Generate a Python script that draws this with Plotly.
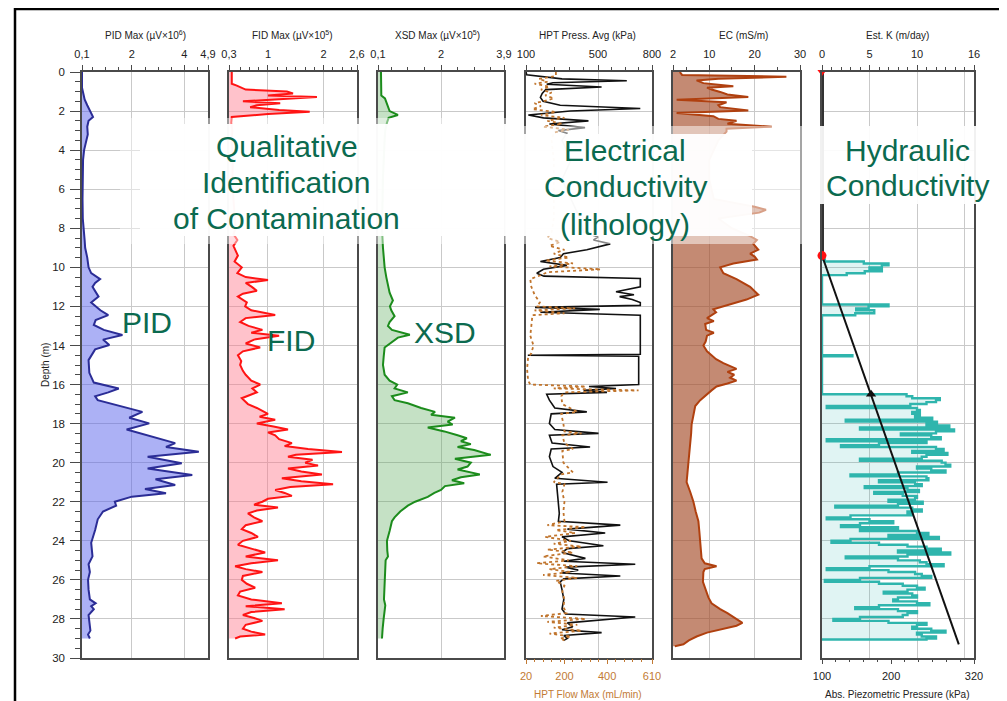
import plotly.graph_objects as go

# The page body has an 8px default margin, so the figure is smaller and shifted by it.
OFF = 8
W, H = 1007 - OFF, 701 - OFF
def fx(x): return (x - OFF) / W
def fy(y): return (H - (y - OFF)) / H

# ---------------- data ----------------
pid_depth = [0, 0.8, 1.1, 1.4, 1.7, 2.0, 2.3, 2.5, 2.8, 3.2, 3.6, 4.0, 4.5, 5.5, 6.5, 7.5, 8.0, 8.6, 9.0, 9.5,
             10.0, 10.3, 10.6, 10.8, 11.0, 11.3, 11.5, 11.8, 12.2, 12.45, 12.7, 12.95, 13.2, 13.46, 13.7, 13.98, 14.2, 14.75, 15.4, 15.9,
             16.2, 16.4, 16.6, 16.8, 17.0, 17.4, 17.7, 17.99, 18.3, 18.67, 19.0, 19.2, 19.44, 19.7, 20.03, 20.3, 20.63, 20.85, 21.14, 21.35,
             21.57, 21.74, 22.0, 22.2, 22.5, 22.9, 23.45, 24.1, 24.8, 25.2, 25.6, 26.0, 26.5, 27.0, 27.2, 27.35, 27.5, 27.8, 28.2, 28.6,
             28.8, 29.0]
pid_val = [0.1, 0.1, 0.15, 0.2, 0.3, 0.4, 0.52, 0.35, 0.3, 0.32, 0.25, 0.18, 0.14, 0.12, 0.12, 0.13, 0.15, 0.2, 0.22, 0.3,
           0.35, 0.45, 0.79, 0.6, 0.5, 0.65, 0.73, 0.45, 0.8, 1.1, 0.62, 0.55, 0.93, 1.64, 0.9, 1.14, 0.6, 0.35, 0.38, 0.55,
           1.5, 1.1, 0.6, 0.7, 1.3, 2.4, 1.9, 2.66, 1.8, 2.8, 3.65, 3.3, 4.55, 2.6, 3.9, 2.6, 4.3, 2.9, 3.65, 2.5,
           3.3, 2.0, 1.35, 1.4, 0.9, 0.7, 0.6, 0.45, 0.5, 0.35, 0.4, 0.33, 0.35, 0.4, 0.62, 0.45, 0.55, 0.35, 0.38, 0.42,
           0.33, 0.4]

fid_depth = [0, 0.6, 0.7, 0.9, 1.0, 1.1, 1.2, 1.28, 1.4, 1.5, 1.6, 1.7, 1.8, 1.95, 2.04, 2.15, 2.3, 2.6, 3.0, 3.5,
             4.5, 5.5, 6.5, 7.5, 8.0, 8.3, 8.6, 8.9, 9.1, 9.4, 9.7, 10.0, 10.3, 10.5, 10.65, 10.8, 11.0, 11.2, 11.35, 11.5,
             11.8, 12.0, 12.2, 12.44, 12.6, 12.8, 13.0, 13.2, 13.35, 13.5, 13.7, 13.9, 14.1, 14.3, 14.5, 14.8, 15.0, 15.3, 15.5, 15.8,
             16.0, 16.2, 16.4, 16.7, 17.0, 17.2, 17.5, 17.65, 17.8, 18.0, 18.15, 18.3, 18.45, 18.6, 18.8, 19.0, 19.15, 19.3, 19.45, 19.6,
             19.7, 19.85, 20.0, 20.15, 20.3, 20.45, 20.6, 20.8, 20.95, 21.1, 21.25, 21.4, 21.55, 21.7, 21.85, 22.0, 22.15, 22.3, 22.45, 22.6,
             22.8, 23.0, 23.2, 23.4, 23.6, 23.8, 24.0, 24.2, 24.4, 24.6, 24.8, 25.0, 25.15, 25.3, 25.45, 25.6, 25.8, 26.0, 26.2, 26.4,
             26.6, 26.8, 27.0, 27.2, 27.35, 27.5, 27.65, 27.8, 27.95, 28.1, 28.3, 28.5, 28.65, 28.8, 28.9, 29.0]
fid_val = [0.35, 0.35, 0.44, 0.6, 1.34, 1.45, 1.0, 1.88, 1.2, 0.55, 1.22, 0.8, 0.68, 1.2, 1.75, 1.0, 0.35, 0.34, 0.36, 0.35,
           0.37, 0.36, 0.38, 0.4, 0.42, 0.38, 0.45, 0.38, 0.41, 0.46, 0.4, 0.53, 0.45, 0.6, 1.0, 0.6, 0.71, 0.8, 0.55, 0.46,
           0.62, 0.59, 0.7, 1.13, 0.6, 0.5, 0.65, 0.9, 0.7, 1.2, 0.75, 0.6, 0.86, 0.55, 0.46, 0.52, 0.5, 0.55, 0.6, 0.7,
           0.86, 0.72, 0.8, 0.53, 0.64, 0.8, 1.0, 0.85, 1.13, 0.8, 1.1, 1.36, 1.0, 1.13, 1.2, 1.43, 1.3, 1.72, 2.33, 1.5,
           1.36, 1.8, 1.67, 1.9, 1.36, 1.6, 1.97, 1.25, 1.6, 2.17, 1.4, 1.13, 1.3, 1.43, 1.0, 0.9, 0.75, 1.18, 0.8, 0.64,
           0.75, 0.9, 0.6, 0.53, 0.7, 0.82, 0.55, 0.46, 0.7, 0.95, 0.6, 1.18, 0.7, 0.41, 0.6, 0.9, 0.55, 0.53, 0.62, 0.77,
           0.5, 0.46, 0.7, 1.25, 0.6, 1.3, 0.7, 0.55, 0.75, 0.9, 0.6, 0.55, 0.7, 0.95, 0.5, 0.41]

xsd_depth = [0, 1.2, 1.35, 1.6, 1.8, 2.0, 2.2, 2.35, 2.6, 3.0, 3.5, 4.5, 5.5, 6.5, 7.5, 8.0, 9.0, 9.5, 10.0, 10.5,
             11.0, 11.3, 11.7, 12.0, 12.2, 12.5, 12.8, 13.0, 13.2, 13.45, 13.6, 13.8, 14.1, 14.6, 15.0, 15.5, 15.8, 16.0, 16.2, 16.4,
             16.6, 16.8, 16.96, 17.2, 17.4, 17.55, 17.7, 17.9, 18.05, 18.2, 18.4, 18.6, 18.75, 18.9, 19.05, 19.2, 19.35, 19.6, 19.8, 20.0,
             20.2, 20.35, 20.6, 20.75, 20.9, 21.05, 21.2, 21.4, 21.55, 21.75, 22.0, 22.2, 22.5, 22.8, 23.0, 23.5, 24.0, 24.5, 24.8, 25.0,
             25.5, 26.0, 26.5, 27.0, 27.3, 27.5, 28.0, 28.5, 29.0]
xsd_val = [0.19, 0.2, 0.31, 0.36, 0.4, 0.45, 0.7, 0.42, 0.37, 0.32, 0.3, 0.27, 0.25, 0.24, 0.23, 0.22, 0.25, 0.27, 0.3, 0.35,
           0.4, 0.45, 0.55, 0.46, 0.5, 0.6, 0.45, 0.4, 0.52, 1.06, 0.7, 0.55, 0.3, 0.27, 0.25, 0.3, 0.45, 0.68, 0.6, 1.0,
           0.52, 0.6, 1.0, 1.4, 1.82, 1.7, 2.42, 2.2, 2.35, 1.6, 2.1, 2.5, 2.78, 2.6, 2.9, 2.5, 3.0, 3.5, 2.42, 2.9,
           2.8, 2.5, 3.17, 2.6, 2.33, 2.7, 2.12, 2.0, 1.8, 1.6, 1.22, 1.0, 0.77, 0.6, 0.52, 0.45, 0.37, 0.38, 0.4, 0.33,
           0.32, 0.3, 0.29, 0.28, 0.32, 0.3, 0.27, 0.24, 0.22]

hpt_p_depth = [0, 0.14, 0.35, 0.45, 0.55, 0.63, 0.77, 0.9, 1.1, 1.3, 1.5, 1.7, 1.87, 2.0, 2.2, 2.35, 2.5, 2.66, 2.85, 3.0,
               3.13, 3.5, 4.5, 5.5, 6.5, 7.5, 8.2, 8.45, 8.6, 8.8, 9.1, 9.3, 9.5, 9.7, 9.9, 10.1, 10.3, 10.45, 10.57, 11.0,
               11.25, 11.4, 11.5, 11.65, 11.8, 11.95, 12.05, 12.15, 12.3, 12.45, 14.45, 14.5, 14.55, 16.0, 16.1, 16.2, 16.3, 16.4, 16.5, 16.8,
               17.2, 17.4, 17.5, 18.0, 18.3, 18.5, 18.6, 19.0, 19.2, 19.3, 19.7, 20.2, 20.5, 20.8, 21.0, 21.1, 21.6, 22.2, 22.6, 23.0,
               23.2, 23.4, 23.6, 23.8, 24.0, 24.25, 24.4, 24.6, 24.9, 25.05, 25.2, 25.35, 25.5, 25.65, 25.8, 25.95, 26.1, 26.5, 27.0, 27.5,
               27.75, 27.9, 28.05, 28.2, 28.4, 28.55, 28.7, 28.85, 29.0, 29.1]
hpt_p_val = [100, 104, 300, 660, 250, 215, 520, 210, 190, 180, 195, 290, 735, 345, 113, 197, 447, 230, 428, 280,
             327, 300, 350, 300, 350, 400, 420, 500, 475, 568, 438, 308, 290, 180, 327, 197, 160, 200, 735, 735,
             600, 700, 620, 690, 735, 735, 150, 510, 180, 735, 735, 110, 726, 726, 450, 600, 420, 550, 215, 230,
             260, 438, 240, 230, 260, 503, 230, 245, 456, 240, 230, 250, 300, 260, 553, 270, 275, 280, 285, 280,
             624, 330, 540, 300, 340, 530, 330, 300, 430, 310, 707, 320, 390, 300, 624, 310, 290, 300, 310, 300,
             320, 707, 520, 330, 360, 300, 520, 310, 330, 310]

hpt_f_depth = [0, 0.2, 0.35, 0.5, 0.6, 0.75, 0.9, 1.05, 1.2, 1.35, 1.5, 1.6, 1.75, 1.9, 2.05, 2.2, 2.35, 2.5, 2.65, 2.8,
               2.95, 3.1, 3.5, 4.5, 5.5, 6.5, 7.5, 8.2, 8.5, 8.7, 8.9, 9.1, 9.3, 9.5, 9.65, 9.8, 9.95, 10.1, 10.25, 10.4,
               10.6, 11.0, 11.4, 11.8, 12.0, 12.1, 12.2, 12.35, 12.45, 13.0, 13.5, 14.0, 14.4, 14.6, 15.2, 15.8, 16.0, 16.1, 16.2, 16.3,
               16.4, 16.6, 17.0, 17.4, 17.5, 18.0, 18.4, 18.5, 18.6, 19.0, 19.3, 19.4, 20.0, 20.5, 20.6, 21.0, 21.1, 21.5, 22.0, 22.5,
               23.0, 23.2, 23.3, 23.45, 23.6, 23.8, 24.0, 24.15, 24.3, 24.45, 24.6, 24.8, 25.0, 25.15, 25.3, 25.45, 25.6, 25.75, 25.9, 26.05,
               26.3, 26.6, 27.0, 27.4, 27.7, 27.85, 28.0, 28.15, 28.3, 28.45, 28.6, 28.75, 28.9, 29.0, 29.1]
hpt_f_val = [160, 160, 80, 120, 60, 130, 90, 140, 110, 150, 100, 60, 90, 50, 160, 90, 200, 120, 190, 100,
             220, 150, 140, 150, 150, 150, 150, 140, 120, 180, 130, 200, 150, 220, 110, 240, 130, 370, 120, 90,
             40, 45, 60, 85, 70, 250, 60, 200, 50, 45, 40, 55, 45, 30, 25, 30, 40, 300, 150, 547,
             200, 185, 190, 260, 185, 195, 200, 280, 190, 200, 240, 190, 195, 240, 185, 150, 200, 190, 200, 195,
             200, 120, 300, 160, 250, 110, 230, 150, 280, 120, 240, 100, 220, 70, 260, 130, 230, 100, 260, 160,
             200, 190, 200, 195, 210, 90, 300, 120, 260, 150, 280, 130, 230, 180, 200]

ec_depth = [0, 0.15, 0.24, 0.35, 0.43, 0.57, 0.65, 0.73, 0.8, 0.9, 1.02, 1.15, 1.28, 1.42, 1.55, 1.7, 1.8, 1.97, 2.1, 2.26,
            2.4, 2.5, 2.65, 2.8, 2.9, 3.05, 3.5, 4.5, 5.5, 6.5, 6.9, 7.05, 7.2, 7.5, 8.0, 8.4, 8.6, 8.8, 9.1, 9.3,
            9.45, 9.6, 9.8, 10.0, 10.3, 10.6, 11.0, 11.2, 11.4, 11.65, 11.95, 12.15, 12.3, 12.45, 12.6, 12.75, 12.9, 13.2, 13.35, 13.5,
            13.8, 14.0, 14.3, 14.5, 14.7, 14.9, 15.05, 15.2, 15.35, 15.5, 15.65, 15.8, 15.95, 16.1, 16.3, 16.5, 16.8, 17.1, 17.5, 18.05,
            18.5, 19.0, 19.5, 20.0, 20.5, 21.0, 21.5, 22.0, 22.5, 23.0, 23.5, 24.0, 24.5, 24.9, 25.15, 25.3, 25.45, 25.6, 26.1, 26.5,
            26.9, 27.2, 27.5, 27.7, 27.9, 28.05, 28.2, 28.35, 28.5, 28.7, 28.9, 29.1, 29.3, 29.4]
ec_val = [3.5, 4, 27, 12, 7.2, 8.7, 12, 15.3, 9.5, 10.5, 12.4, 14, 18.6, 2.8, 13.8, 12, 12.4, 18.6, 2.8, 10.9,
          12, 16, 14, 23.8, 13.8, 13.8, 12, 10, 10, 11, 20, 22.5, 21, 12, 15, 19, 20.5, 19.7, 20.8, 19,
          20, 20.5, 15.3, 12.4, 13.1, 16, 19, 20, 20.8, 18.2, 13.8, 10.9, 11.5, 10.5, 9.5, 11, 9.1, 9.3, 11, 9.5,
          9.2, 8.7, 9.5, 10.5, 11.5, 13.1, 14.5, 16, 14, 15.5, 14.6, 16, 14, 11.6, 10.5, 9.4, 8, 6.9, 6.5, 6.1,
          6, 5.75, 5.6, 5.4, 5.2, 5.0, 5.8, 6.5, 7, 7.6, 7.8, 8.0, 8.1, 8.3, 9, 11.6, 9, 8.7, 8.6, 9.2,
          9.8, 10.5, 12.4, 14, 15.3, 16.3, 17.3, 16, 13, 9.5, 7.2, 5.5, 4.3, 2.4]

k_depth = [9.4, 9.6, 9.7, 9.8, 9.9, 10.0, 10.1, 10.2, 10.3, 10.4, 11.8, 11.9, 12.0, 12.1, 12.2, 12.35, 12.45, 14.4, 14.5, 14.55,
           16.4, 16.5, 16.6, 16.7, 16.8, 16.9, 17.0, 17.1, 17.2, 17.3, 17.4, 17.5, 17.6, 17.7, 17.8, 17.9, 18.0, 18.1, 18.2, 18.3,
           18.4, 18.5, 18.6, 18.7, 18.8, 18.9, 19.0, 19.1, 19.2, 19.3, 19.4, 19.5, 19.6, 19.7, 19.8, 19.9, 20.0, 20.1, 20.2, 20.3,
           20.4, 20.5, 20.6, 20.7, 20.8, 20.9, 21.0, 21.1, 21.2, 21.3, 21.4, 21.5, 21.6, 21.7, 21.8, 21.9, 22.0, 22.1, 22.2, 22.3,
           22.4, 22.5, 22.6, 22.7, 22.8, 22.9, 23.0, 23.1, 23.2, 23.3, 23.4, 23.5, 23.6, 23.7, 23.8, 23.9, 24.0, 24.1, 24.2, 24.3,
           24.4, 24.5, 24.6, 24.7, 24.8, 24.9, 25.0, 25.1, 25.2, 25.3, 25.4, 25.5, 25.6, 25.7, 25.8, 25.9, 26.0, 26.1, 26.2, 26.3,
           26.4, 26.5, 26.6, 26.7, 26.8, 26.9, 27.0, 27.1, 27.2, 27.3, 27.4, 27.5, 27.6, 27.7, 27.8, 27.9, 28.0, 28.1, 28.2, 28.3,
           28.4, 28.5, 28.6, 28.7, 28.8, 28.9, 29.0, 29.05]
k_val = [0, 0.3, 4.4, 7.0, 6.3, 5.0, 6.3, 4.5, 2.6, 0, 0, 7.0, 4.9, 3.6, 5.5, 3.5, 0, 0, 3.2, 0,
         0, 8.9, 9.5, 12.4, 12.0, 11.0, 9.3, 0.5, 10.0, 10.3, 9.5, 10.3, 9.8, 11.6, 2.5, 12.1, 11.0, 13.4, 4.0, 13.9,
         12.0, 8.3, 11.5, 12.5, 0.5, 11.0, 6.0, 2.0, 12.0, 12.8, 9.5, 13.2, 11.0, 10.5, 4.0, 12.6, 13.0, 13.5, 10.0, 11.5,
         13.0, 8.0, 3.0, 11.0, 11.2, 6.0, 9.8, 10.5, 4.5, 9.0, 10.2, 5.5, 8.5, 10.0, 9.8, 7.0, 10.6, 8.0, 1.4, 9.5,
         10.5, 9.0, 9.5, 3.0, 0.5, 5.0, 7.5, 4.0, 2.0, 8.0, 4.0, 10.0, 11.2, 7.0, 12.3, 3.0, 1.0, 6.0, 9.0, 11.0,
         12.5, 8.0, 13.5, 9.0, 2.5, 8.0, 10.3, 11.0, 12.8, 5.0, 0.5, 7.0, 9.8, 10.5, 11.5, 4.0, 0.3, 6.0, 8.5, 10.0,
         10.8, 9.0, 6.5, 9.5, 10.0, 8.0, 7.5, 10.0, 11.3, 6.0, 3.5, 8.0, 10.0, 9.0, 8.5, 4.0, 1.2, 7.0, 11.0, 10.0,
         9.5, 11.5, 13.0, 10.0, 10.5, 12.0, 11.0, 0]

piezo_depth = [9.4, 29.3]
piezo_kpa = [100, 298]
vadose_depth = [0, 9.4]
vadose_kpa = [100, 100]
piezo_marker_depth = [16.5]
piezo_marker_kpa = [171]
k_extra_grid = 15

for a, b in [(pid_depth, pid_val), (fid_depth, fid_val), (xsd_depth, xsd_val), (hpt_p_depth, hpt_p_val),
             (hpt_f_depth, hpt_f_val), (ec_depth, ec_val), (k_depth, k_val)]:
    assert len(a) == len(b), (len(a), len(b))

# ---------------- layout helpers ----------------
FONT = "Liberation Sans, Arial, sans-serif"
GRID = "#c9c9c9"
LINE = "#4a4a4a"
BROWN = "#c27a34"
panels = [(82, 208), (229, 357), (378, 504), (526, 652), (673, 800), (822, 974)]
ydom = [fy(658), fy(72)]

def top_axis(i, rng, vals, text, minor_vals):
    x0, x1 = panels[i]
    return dict(domain=[fx(x0), fx(x1)], range=rng, side="top", anchor="y" if i == 0 else f"y{i+1}",
                tickmode="array", tickvals=vals, ticktext=text, ticks="outside", ticklen=5, tickwidth=1,
                tickcolor=LINE, showline=True, linecolor=LINE, linewidth=1.5, mirror=True,
                showgrid=True, gridcolor=GRID, gridwidth=1, zeroline=False, tickangle=0,
                tickfont=dict(family=FONT, size=11, color="#222"), ticklabelstandoff=3,
                minor=dict(tickmode="array", tickvals=minor_vals, ticks="outside", ticklen=3,
                           tickcolor=LINE, showgrid=False))

def y_axis(i):
    d = dict(domain=ydom, range=[30, 0], anchor="x" if i == 0 else f"x{i+1}",
             tickmode="linear", tick0=0, dtick=2, showgrid=True, gridcolor=GRID, gridwidth=1,
             zeroline=False, showline=True, linecolor=LINE, linewidth=1.5, mirror=True)
    if i == 0:
        d.update(ticks="outside", ticklen=10, tickcolor=LINE, showticklabels=True, tickangle=0,
                 tickfont=dict(family=FONT, size=11.5, color="#222"), ticklabelstandoff=3,
                 minor=dict(dtick=0.5, ticks="outside", ticklen=5, tickcolor=LINE, showgrid=False))
    else:
        d.update(ticks="", showticklabels=False)
    return d

layout = dict(width=W, height=H, margin=dict(l=0, r=0, t=0, b=0), template="none",
              paper_bgcolor="white", plot_bgcolor="white", showlegend=False,
              font=dict(family=FONT, size=11, color="#222"))

layout["xaxis"] = top_axis(0, [0.1, 4.9], [0.1, 2, 4, 4.9], ["0,1", "2", "4", "4,9"],
                           [0.5, 1, 1.5, 2.5, 3, 3.5, 4.5])
layout["xaxis2"] = top_axis(1, [0.3, 2.6], [0.3, 1, 2, 2.6], ["0,3", "1", "2", "2,6"],
                            [0.5, 0.6667, 0.8333, 1.1667, 1.3333, 1.5, 1.6667, 1.8333, 2.1667, 2.3333, 2.5])
layout["xaxis3"] = top_axis(2, [0.1, 3.9], [0.1, 2, 3.9], ["0,1", "2", "3,9"],
                            [0.5, 1, 1.5, 2.5, 3, 3.5])
layout["xaxis4"] = top_axis(3, [100, 800], [100, 500, 800], ["100", "500", "800"],
                            [180, 260, 340, 420, 575, 650, 725])
layout["xaxis5"] = top_axis(4, [2, 30], [2, 10, 20, 30], ["2", "10", "20", "30"], [5, 15, 25])
layout["xaxis6"] = top_axis(5, [0, 16], [0, 5, 10, 16], ["0", "5", "10", "16"],
                            [1, 2, 3, 4, 6, 7, 8, 9, 11, 12, 13, 14, 15])
layout["xaxis7"] = dict(overlaying="x4", anchor="y4", side="bottom", range=[20, 610],
                        tickmode="array", tickvals=[20, 200, 400, 610], ticktext=["20", "200", "400", "610"],
                        ticks="outside", ticklen=5, tickcolor=BROWN, showline=False, showgrid=False, tickangle=0,
                        zeroline=False, tickfont=dict(family=FONT, size=11, color=BROWN), ticklabelstandoff=3,
                        minor=dict(tickmode="array", tickvals=[60, 100, 140, 180, 240, 280, 320, 360, 440, 480, 520, 560],
                                   ticks="outside", ticklen=3, tickcolor=BROWN))
layout["xaxis8"] = dict(overlaying="x6", anchor="y6", side="bottom", range=[100, 320],
                        tickmode="array", tickvals=[100, 200, 320], ticktext=["100", "200", "320"],
                        ticks="outside", ticklen=5, tickcolor=LINE, showline=False, showgrid=False, tickangle=0,
                        zeroline=False, tickfont=dict(family=FONT, size=11, color="#222"), ticklabelstandoff=3,
                        minor=dict(tickmode="array", tickvals=[120, 140, 160, 180, 220, 240, 260, 280, 300],
                                   ticks="outside", ticklen=3, tickcolor=LINE))
for i in range(6):
    layout["yaxis" if i == 0 else f"yaxis{i+1}"] = y_axis(i)

fig = go.Figure(layout=layout)

def prof(x, y, xa, ya, color, fillc, width=1.8):
    fig.add_trace(go.Scatter(x=x, y=y, xaxis=xa, yaxis=ya, mode="lines",
                             line=dict(color=color, width=width), fill="tozerox", fillcolor=fillc,
                             hoverinfo="skip"))

prof(pid_val, pid_depth, "x", "y", "#2b2d96", "rgba(90,100,235,0.5)", 2)
prof(fid_val, fid_depth, "x2", "y2", "#ff1414", "rgba(255,120,140,0.45)", 2)
prof(xsd_val, xsd_depth, "x3", "y3", "#1c8c1c", "rgba(90,170,90,0.35)", 2)
fig.add_trace(go.Scatter(x=hpt_f_val, y=hpt_f_depth, xaxis="x7", yaxis="y4", mode="lines",
                         line=dict(color="#c0742c", width=1.8, dash="dot"), hoverinfo="skip"))
fig.add_trace(go.Scatter(x=hpt_p_val, y=hpt_p_depth, xaxis="x4", yaxis="y4", mode="lines",
                         line=dict(color="#111", width=1.6), hoverinfo="skip"))
prof(ec_val, ec_depth, "x5", "y5", "#b0400f", "rgba(165,75,40,0.65)", 2)
fig.add_trace(go.Scatter(x=k_val, y=k_depth, xaxis="x6", yaxis="y6", mode="lines",
                         line=dict(color="#2fb5ad", width=2.4, shape="vh"), fill="tozerox",
                         fillcolor="rgba(47,181,173,0.15)", hoverinfo="skip"))
fig.add_trace(go.Scatter(x=vadose_kpa, y=vadose_depth, xaxis="x8", yaxis="y6", mode="lines",
                         line=dict(color="#333", width=4), hoverinfo="skip"))
fig.add_trace(go.Scatter(x=piezo_kpa, y=piezo_depth, xaxis="x8", yaxis="y6", mode="lines",
                         line=dict(color="#111", width=2), hoverinfo="skip"))
fig.add_trace(go.Scatter(x=piezo_marker_kpa, y=piezo_marker_depth, xaxis="x8", yaxis="y6", mode="markers",
                         marker=dict(symbol="triangle-up", size=9, color="#111"), hoverinfo="skip"))
fig.add_trace(go.Scatter(x=[piezo_kpa[0]], y=[piezo_depth[0]], xaxis="x8", yaxis="y6", mode="markers",
                         marker=dict(symbol="circle", size=9, color="#ff1010"), cliponaxis=False, hoverinfo="skip"))
fig.add_trace(go.Scatter(x=[vadose_kpa[0]], y=[vadose_depth[0]], xaxis="x8", yaxis="y6", mode="markers",
                         marker=dict(symbol="triangle-down", size=8, color="#ff1010"), cliponaxis=False, hoverinfo="skip"))

# ---------------- shapes: extra gridline, white text boxes, frame ----------------
shapes = [dict(type="line", xref="x6", yref="y6 domain", x0=k_extra_grid, x1=k_extra_grid, y0=0, y1=1,
               line=dict(color=GRID, width=1), layer="below")]
boxes = [  # x0, y0, x1, y1, opacity (page pixels)
    (120, 118, 515, 244, 0.45),
    (140, 124, 508, 236, 0.95),
    (505, 126, 808, 244, 0.5),
    (512, 134, 752, 236, 0.95),
    (812, 126, 1000, 204, 0.92),
]
for x0, y0, x1, y1, op in boxes:
    shapes.append(dict(type="rect", xref="paper", yref="paper", x0=fx(x0), x1=fx(x1), y0=fy(y1), y1=fy(y0),
                       fillcolor="white", line=dict(width=0), opacity=op, layer="above"))
shapes.append(dict(type="rect", xref="paper", yref="paper", x0=fx(15), x1=fx(1005), y0=-0.02, y1=fy(9),
                   fillcolor="rgba(0,0,0,0)", line=dict(color="black", width=2.5), layer="above"))
fig.update_layout(shapes=shapes)

# ---------------- text ----------------
ann = []
def txt(s, x, y, size=10, color="#222", angle=0):
    ann.append(dict(text=s, x=fx(x), y=fy(y), xref="paper", yref="paper", showarrow=False,
                    xanchor="center", yanchor="middle", textangle=angle,
                    font=dict(family=FONT, size=size, color=color)))

txt("PID Max (µV×10<sup>6</sup>)", 145, 35)
txt("FID Max (µV×10<sup>5</sup>)", 292, 35)
txt("XSD Max (µV×10<sup>5</sup>)", 437, 35)
txt("HPT Press. Avg (kPa)", 587, 35)
txt("EC (mS/m)", 743, 35)
txt("Est. K (m/day)", 897, 35)
txt("HPT Flow Max (mL/min)", 588, 694, color=BROWN)
txt("Abs. Piezometric Pressure (kPa)", 897, 694)
txt("Depth (m)", 45, 365, angle=-90)

GREEN = "#0b6a4f"
for s, x, y in [("Qualitative", 287, 146), ("Identification", 286, 183), ("of Contamination", 286, 219),
                ("Electrical", 625, 150), ("Conductivity", 625, 187), ("(lithology)", 625, 224),
                ("Hydraulic", 907, 150), ("Conductivity", 907, 185),
                ("PID", 147, 322), ("FID", 291, 340), ("XSD", 445, 333)]:
    txt(s, x, y, size=30, color=GREEN)
fig.update_layout(annotations=ann)

fig.write_html("out.html")
